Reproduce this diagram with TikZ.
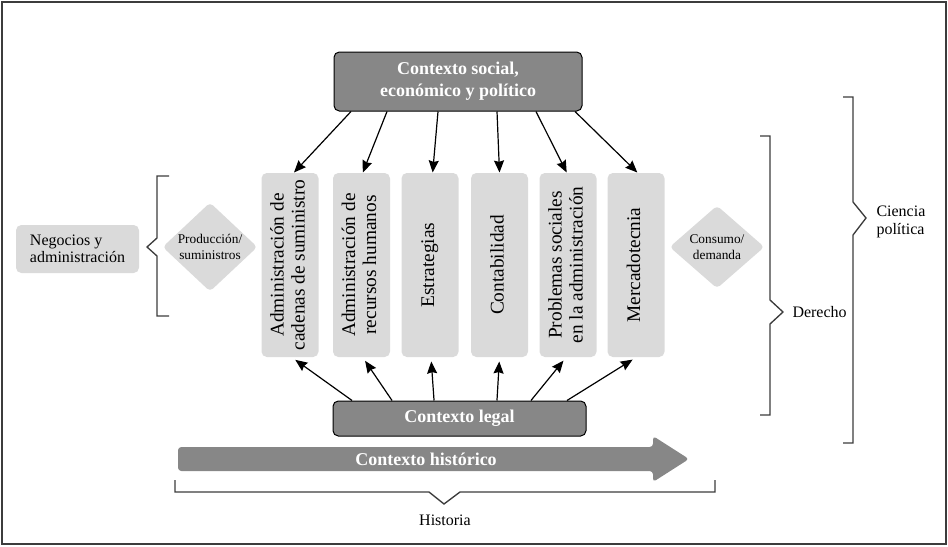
\documentclass[tikz,border=0pt]{standalone}
\usepackage{fontspec}
\setmainfont{Liberation Serif}
\usetikzlibrary{shapes.geometric,arrows.meta}

\definecolor{darkbox}{RGB}{135,135,135}
\definecolor{lightbox}{RGB}{218,218,218}
\definecolor{framegray}{RGB}{60,60,60}
\newcommand{\coltext}[1]{\rotatebox{90}{\begin{tabular}{@{}c@{}}#1\end{tabular}}}

\tikzset{every picture/.style={line width=0.75pt}}
\tikzset{
  ctxbox/.style={draw=black, fill=darkbox, rounded corners=4pt, text=white, align=center, inner sep=0pt,
    font=\fontsize{13.5}{16.5}\selectfont\bfseries},
  fieldbox/.style={fill=lightbox, rounded corners=4pt, inner sep=0pt, minimum width=42.75pt, minimum height=138pt,
    font=\fontsize{14.5}{15.75}\selectfont},
  flowdiam/.style={diamond, fill=lightbox, rounded corners=3pt, inner sep=0pt, minimum width=71.25pt,
    minimum height=62.25pt, align=center, font=\fontsize{10}{11.5}\selectfont},
  brace/.style={draw=framegray, line width=1pt},
  conn/.style={-{Stealth[length=9pt,width=7.5pt,inset=1pt]}, line width=0.9pt},
  lbl/.style={font=\fontsize{12}{14}\selectfont, align=left, inner sep=0pt}
}

\begin{document}
\begin{tikzpicture}[x=0.75pt,y=0.75pt,yscale=-1,xscale=1]
\useasboundingbox (0,0) rectangle (948,546);

%Shape: Rectangle [frame]
\draw [framegray, line width=1.5pt] (2,2) rectangle (946,544);

% Context boxes
\node [ctxbox, minimum width=186pt, minimum height=44.25pt] (social) at (458,81.5) {Contexto social,\\económico y político};
\node [ctxbox, minimum width=189.75pt, minimum height=26.25pt] (legal) at (459.5,418.5) {Contexto legal};

% Field columns
\node [fieldbox] (supply) at (290,265) {\coltext{Administración de\\cadenas de suministro}};
\node [fieldbox] (hr) at (361.5,265) {\coltext{Administración de\\recursos humanos}};
\node [fieldbox] (strat) at (430,265) {\coltext{Estrategias}};
\node [fieldbox] (acct) at (499.5,265) {\coltext{Contabilidad}};
\node [fieldbox] (social problems) at (568,265) {\coltext{Problemas sociales\\en la administración}};
\node [fieldbox] (mkt) at (636,265) {\coltext{Mercadotecnia}};

%Shape: Diamond
\node [flowdiam] (prod) at (210,247) {Producción/\\suministros};
\node [flowdiam] (cons) at (717,247) {Consumo/\\demanda};

%Shape: Rectangle [business]
\node [fill=lightbox, rounded corners=4pt, minimum width=92.25pt, minimum height=36pt, align=left,
  font=\fontsize{12}{13}\selectfont] (biz) at (77.5,249) {Negocios y\\administración};

%Straight Lines [top arrows]
\draw [conn] ([xshift=-80.25pt]social.south) -- ([xshift=3pt]supply.north);
\draw [conn] ([xshift=-53.25pt]social.south) -- ([xshift=1pt]hr.north);
\draw [conn] ([xshift=-15pt]social.south) -- ([xshift=2pt]strat.north);
\draw [conn] ([xshift=29.25pt]social.south) -- (acct.north);
\draw [conn] ([xshift=58.5pt]social.south) -- ([xshift=-1pt]social problems.north);
\draw [conn] ([xshift=87.75pt]social.south) -- ([xshift=1pt]mkt.north);

%Straight Lines [bottom arrows]
\draw [conn, shorten >=3pt] ([xshift=-80.6pt]legal.north) -- ([xshift=1.5pt]supply.south);
\draw [conn, shorten >=3pt] ([xshift=-50.6pt]legal.north) -- ([xshift=1pt]hr.south);
\draw [conn, shorten >=3pt] ([xshift=-19.1pt]legal.north) -- ([xshift=0.75pt]strat.south);
\draw [conn, shorten >=3pt] ([xshift=28.1pt]legal.north) -- (acct.south);
\draw [conn, shorten >=3pt] ([xshift=53.6pt]legal.north) -- ([xshift=-1.5pt]social problems.south);
\draw [conn, shorten >=3pt] ([xshift=80.6pt]legal.north) -- (mkt.south);

%Shape: Arrow [history]
\fill [darkbox, rounded corners=2.5pt] (178,447) -- (653,447) -- (653,436) -- (689,459) -- (653,482) -- (653,471) -- (178,471) -- cycle;
% Text Node
\node [text=white, font=\fontsize{13.5}{16.5}\selectfont\bfseries] (hist) at (426,459) {Contexto histórico};

%Straight Lines [brackets]
\draw [brace] (169,176) -- (157,176) -- (157,238) -- (147,247) -- (157,256) -- (157,316) -- (169,316);
\draw [brace] (760,136) -- (770,136) -- (770,300) -- (783,312) -- (770,324) -- (770,415) -- (760,415);
\draw [brace] (843,97) -- (853,97) -- (853,202) -- (866,218) -- (853,235) -- (853,443) -- (843,443);
\draw [brace] (175,480) -- (175,492) -- (429,492) -- (444,504) -- (460,492) -- (715,492) -- (715,480);

% Text Node
\node [lbl, anchor=west] (law) at (792,312) {Derecho};
\node [lbl, anchor=west] (polsci) at (876,222) {Ciencia\\política};
\node [lbl] (histlbl) at (445,520) {Historia};

\end{tikzpicture}
\end{document}
